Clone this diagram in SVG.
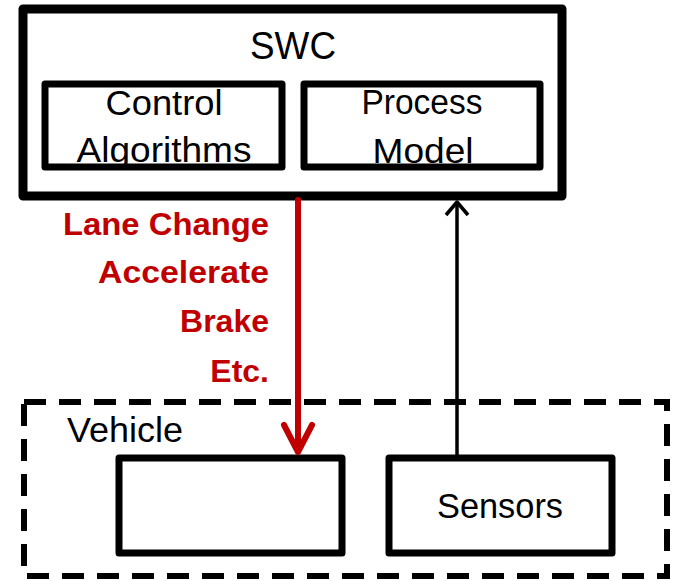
<svg xmlns="http://www.w3.org/2000/svg" width="679" height="581" viewBox="0 0 679 581">
  <style>
    .box { fill: #ffffff; stroke: #000000; stroke-linejoin: round; }
    .label { font-family: "Liberation Sans", Arial, sans-serif; font-size: 35px; fill: #000000; text-anchor: middle; }
    .cmd { font-family: "Liberation Sans", Arial, sans-serif; font-size: 32px; font-weight: bold; fill: #C00000; text-anchor: end; }
    .red { stroke: #C00000; stroke-width: 6; fill: none; stroke-linecap: round; stroke-linejoin: round; }
    .blk { stroke: #000000; stroke-width: 3.5; fill: none; stroke-linejoin: round; }
  </style>
  <rect width="679" height="581" fill="#ffffff"/>

  <!-- Vehicle boundary -->
  <g id="vehicle">
    <rect x="24" y="402" width="643" height="174" fill="none" stroke="#000000" stroke-width="6" stroke-dasharray="22 13"/>
    <text x="67" y="442" class="label" style="text-anchor:start" textLength="116" lengthAdjust="spacingAndGlyphs">Vehicle</text>
  </g>

  <!-- Software component -->
  <g id="swc">
    <rect x="23" y="9" width="539" height="187" class="box" stroke-width="9"/>
    <text x="293" y="59" class="label" style="font-size:38px" textLength="86" lengthAdjust="spacingAndGlyphs">SWC</text>
  </g>

  <g id="control-algorithms">
    <rect x="45" y="84" width="237" height="83" class="box" stroke-width="7"/>
    <text x="164" y="115" class="label" textLength="117" lengthAdjust="spacingAndGlyphs">Control</text>
    <text x="164" y="162" class="label" textLength="175" lengthAdjust="spacingAndGlyphs">Algorithms</text>
  </g>

  <g id="process-model">
    <rect x="304" y="84" width="236" height="83" class="box" stroke-width="7"/>
    <text x="422" y="114" class="label" textLength="121" lengthAdjust="spacingAndGlyphs">Process</text>
    <text x="423" y="163" class="label" textLength="101" lengthAdjust="spacingAndGlyphs">Model</text>
  </g>

  <g id="actuators">
    <rect x="119" y="458" width="223" height="95" class="box" stroke-width="7"/>
  </g>

  <g id="sensors">
    <rect x="389" y="458" width="223" height="95" class="box" stroke-width="7"/>
    <text x="500" y="518" class="label" textLength="126" lengthAdjust="spacingAndGlyphs">Sensors</text>
  </g>

  <!-- Connectors -->
  <g id="connectors">
    <line x1="298" y1="200" x2="298" y2="451" class="red"/>
    <path d="M284,425 L298,452 L312,425" class="red"/>
    <line x1="457" y1="455" x2="457" y2="202" class="blk"/>
    <path d="M446,215 L457,202 L468,215" class="blk"/>
  </g>

  <!-- Commands sent to the vehicle -->
  <g id="commands">
    <text x="269" y="235" class="cmd" textLength="206" lengthAdjust="spacingAndGlyphs">Lane Change</text>
    <text x="269" y="283" class="cmd" textLength="171" lengthAdjust="spacingAndGlyphs">Accelerate</text>
    <text x="269" y="332" class="cmd">Brake</text>
    <text x="269" y="382" class="cmd">Etc.</text>
  </g>
</svg>
